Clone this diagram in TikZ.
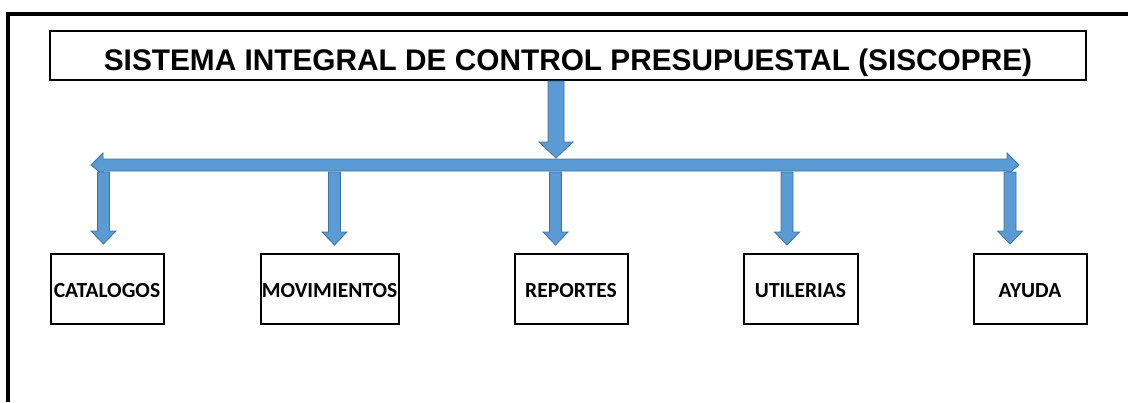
\documentclass[tikz,border=0pt]{standalone}
\usepackage{fontspec}
\setmainfont{Liberation Sans}
\newfontfamily\calib{Carlito}
\definecolor{arrfill}{HTML}{5B9BD5}
\definecolor{arrline}{HTML}{41719C}
\newcommand\dnarrow[3]{%
  \draw[blockarrow] ({#1-6},#2) -- ({#1+6},#2) -- ({#1+6},{#3-13}) -- ({#1+12.5},{#3-13})
    -- (#1,#3) -- ({#1-12.5},{#3-13}) -- ({#1-6},{#3-13}) -- cycle;}
\begin{document}
\begin{tikzpicture}[x=1pt,y=-1pt,
  blockarrow/.style={fill=arrfill,draw=arrline,line width=0.8pt,line join=miter},
  titlebox/.style={draw,line width=2pt,minimum width=1036pt,minimum height=49pt,inner sep=0pt,
     text height=30pt,text depth=0pt,
     font=\bfseries\fontsize{29.8}{32}\selectfont},
  menubox/.style={draw,line width=2pt,minimum height=70pt,inner sep=0pt,
     text height=17pt,text depth=0pt,
     font=\calib\bfseries\fontsize{21.5}{24}\selectfont}]
\useasboundingbox (0,0) rectangle (1128,402);
\draw[line width=4pt] (8,402) -- (8,14) -- (1128,14);
\node[titlebox] (title) at (568,55) {SISTEMA INTEGRAL DE CONTROL PRESUPUESTAL (SISCOPRE)};
\node[menubox,minimum width=113pt] (cat) at (107,288.5) {CATALOGOS};
\node[menubox,minimum width=138pt] (mov) at (329.5,288.5) {MOVIMIENTOS};
\node[menubox,minimum width=113pt] (rep) at (571,288.5) {REPORTES};
\node[menubox,minimum width=114pt] (uti) at (800.5,288.5) {UTILERIAS};
\node[menubox,minimum width=113pt] (ayu) at (1030,288.5) {AYUDA};
% horizontal double arrow
\draw[blockarrow] (91,165) -- (103,153) -- (103,159) -- (1007,159) -- (1007,153) -- (1019,165)
   -- (1007,175) -- (1007,171) -- (103,171) -- (103,175) -- cycle;
% top arrow
\draw[blockarrow] (548,81) -- (564,81) -- (564,142) -- (573,142) -- (556,158) -- (539,142) -- (548,142) -- cycle;
% down arrows
\dnarrow{103.5}{172}{244}
\dnarrow{334.5}{172}{245}
\dnarrow{555.5}{172}{245}
\dnarrow{787}{172}{245}
\dnarrow{1010}{172}{244}
\end{tikzpicture}
\end{document}
